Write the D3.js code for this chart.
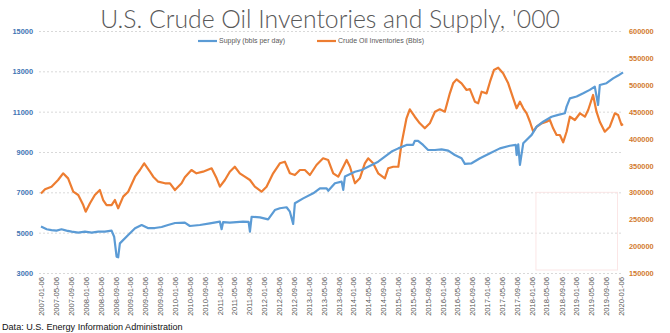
<!DOCTYPE html>
<html>
<head>
<meta charset="utf-8">
<script src="https://cdn.jsdelivr.net/npm/d3@7"></script>
<style>
  html, body { margin: 0; padding: 0; background: #fff; }
  svg { display: block; }
</style>
</head>
<body>
<svg id="chart" width="670" height="333"></svg>
<script>
// ---------- DATA ----------
const titleText = "U.S. Crude Oil Inventories and Supply, '000";
const sourceText = "Data: U.S. Energy Information Administration";
const seriesNames = ["Supply (bbls per day)", "Crude Oil Inventories (Bbls)"];

const leftTicks = [3000, 5000, 7000, 9000, 11000, 13000, 15000];
const rightTicks = [150000, 200000, 250000, 300000, 350000, 400000, 450000, 500000, 550000, 600000];

const xTickLabels = [
  "2007-01-06","2007-05-06","2007-09-06","2008-01-06","2008-05-06","2008-09-06",
  "2009-01-06","2009-05-06","2009-09-06","2010-01-06","2010-05-06","2010-09-06",
  "2011-01-06","2011-05-06","2011-09-06","2012-01-06","2012-05-06","2012-09-06",
  "2013-01-06","2013-05-06","2013-09-06","2014-01-06","2014-05-06","2014-09-06",
  "2015-01-06","2015-05-06","2015-09-06","2016-01-06","2016-05-06","2016-09-06",
  "2017-01-06","2017-05-06","2017-09-06","2018-01-06","2018-05-06","2018-09-06",
  "2019-01-06","2019-05-06","2019-09-06","2020-01-06"
];

const supplyDates = [
  "2007-01-06","2007-02-22","2007-04-02","2007-05-13","2007-06-23","2007-08-03","2007-09-14","2007-11-07",
  "2008-01-01","2008-02-25","2008-04-19","2008-06-12","2008-08-06","2008-08-27","2008-09-16","2008-09-29",
  "2008-10-13","2008-12-20","2009-02-14","2009-04-09","2009-05-30","2009-07-26","2009-09-20","2009-11-11",
  "2010-01-08","2010-03-29","2010-05-09","2010-07-30","2010-10-20","2011-01-10","2011-01-24","2011-02-05",
  "2011-04-01","2011-07-19","2011-09-02","2011-09-13","2011-09-27","2011-12-04","2012-02-09","2012-04-04",
  "2012-05-15","2012-07-09","2012-08-05","2012-09-01","2012-09-15","2012-11-22","2013-02-12","2013-04-08",
  "2013-06-02","2013-06-15","2013-08-09","2013-10-03","2013-10-16","2013-10-30","2014-01-20","2014-03-15",
  "2014-05-08","2014-07-29","2014-09-22","2014-11-16","2015-01-10","2015-03-18","2015-05-11","2015-05-25",
  "2015-06-21","2015-08-01","2015-09-11","2015-11-06","2015-12-30","2016-02-23","2016-04-17","2016-06-11",
  "2016-07-08","2016-09-01","2016-11-09","2017-01-30","2017-04-21","2017-07-11","2017-08-29","2017-09-05",
  "2017-09-18","2017-10-02","2017-10-29","2017-12-09","2018-01-06","2018-02-16","2018-04-10","2018-06-18",
  "2018-08-11","2018-10-05","2018-10-19","2018-11-15","2019-01-09","2019-03-04","2019-04-27","2019-06-07",
  "2019-07-04","2019-07-18","2019-09-11","2019-11-04","2019-12-15","2020-01-12","2020-01-24"
];
const supplyValues = [
  5300, 5170, 5130, 5100, 5170, 5100, 5050, 5000,
  5050, 5000, 5050, 5050, 5100, 4800, 3810, 3780,
  4470, 4880, 5220, 5380, 5230, 5230, 5280, 5380,
  5480, 5495, 5330, 5380, 5460, 5545, 5170, 5520,
  5495, 5545, 5540, 5050, 5790, 5760, 5660, 6120,
  6210, 6260, 6040, 5430, 6460, 6700, 6950, 7200,
  7200, 7080, 7450, 7530, 7120, 7780, 8020, 8110,
  8270, 8520, 8770, 9020, 9180, 9350, 9350, 9550,
  9550, 9350, 9100, 9100, 9130, 9070, 8850, 8690,
  8410, 8440, 8690, 8940, 9180, 9310, 9350, 8850,
  9380, 8360, 9430, 9680, 9850, 10260, 10500, 10750,
  10840, 10920, 11250, 11660, 11750, 11910, 12080, 12240,
  11330, 12320, 12410, 12650, 12790, 12900, 12950
];

const invDates = [
  "2007-01-06","2007-02-08","2007-04-02","2007-05-26","2007-07-06","2007-08-16","2007-09-27","2007-11-07",
  "2007-12-18","2008-01-07","2008-02-11","2008-03-22","2008-05-02","2008-05-29","2008-06-26","2008-08-06",
  "2008-09-02","2008-09-29","2008-11-09","2008-12-20","2009-02-14","2009-03-26","2009-04-30","2009-06-16",
  "2009-07-13","2009-08-23","2009-10-17","2009-11-27","2010-01-07","2010-03-02","2010-03-29","2010-05-22",
  "2010-07-02","2010-08-25","2010-11-03","2010-12-14","2011-01-10","2011-02-20","2011-04-01","2011-05-12",
  "2011-06-22","2011-08-02","2011-09-13","2011-10-23","2011-12-17","2012-01-27","2012-03-21","2012-05-15",
  "2012-06-25","2012-08-05","2012-09-15","2012-10-26","2012-12-06","2013-01-16","2013-03-11","2013-05-04",
  "2013-06-15","2013-07-26","2013-09-05","2013-10-03","2013-11-13","2013-12-10","2014-01-20","2014-03-01",
  "2014-04-11","2014-05-08","2014-06-18","2014-07-29","2014-09-22","2014-10-19","2014-11-29","2015-01-10",
  "2015-02-06","2015-03-18","2015-04-14","2015-05-25","2015-07-05","2015-08-15","2015-09-25","2015-11-06",
  "2015-12-16","2016-01-26","2016-03-07","2016-04-03","2016-05-01","2016-06-11","2016-07-22","2016-08-18",
  "2016-09-28","2016-10-25","2016-11-22","2017-01-02","2017-01-30","2017-03-03","2017-04-07","2017-05-17",
  "2017-06-28","2017-08-08","2017-09-05","2017-10-02","2017-10-29","2017-11-26","2017-12-23","2018-01-19",
  "2018-02-16","2018-03-28","2018-05-08","2018-06-04","2018-07-01","2018-07-29","2018-08-25","2018-09-21",
  "2018-10-19","2018-11-15","2018-12-26","2019-02-06","2019-03-18","2019-04-14","2019-05-24","2019-06-21",
  "2019-07-18","2019-08-28","2019-10-08","2019-11-18","2019-12-15","2020-01-12","2020-01-24"
];
const invValues = [
  298000, 305600, 310500, 322900, 335400, 326000, 301200, 295000,
  276400, 264000, 279600, 295000, 304300, 285700, 276400, 276400,
  285700, 270300, 292000, 301200, 329100, 341500, 354000, 338400,
  329100, 319800, 316800, 316800, 304300, 316800, 328000, 341500,
  335400, 338400, 344700, 326100, 310500, 322900, 338400, 347600,
  335400, 329100, 322900, 310500, 301200, 310500, 335400, 354000,
  357000, 335400, 332200, 341500, 341500, 332200, 350800, 363300,
  360100, 335400, 329100, 341500, 360100, 347600, 316800, 326100,
  354000, 363300, 354000, 335400, 326100, 344700, 347600, 347600,
  391100, 437600, 454400, 440600, 428300, 419000, 428300, 449900,
  454400, 449900, 484100, 502700, 510100, 502700, 490300, 492000,
  468500, 465600, 487100, 484100, 505700, 527400, 531700, 521400,
  502700, 474800, 456200, 468500, 456200, 446900, 431300, 412700,
  422000, 428300, 431300, 434500, 419000, 406600, 406600, 393000,
  412700, 440600, 434500, 447000, 440600, 453100, 481000, 450000,
  431300, 412700, 422000, 447000, 443800, 425200, 427000
];

// ---------- LAYOUT ----------
const plot = { left: 41, right: 623, top: 31, bottom: 273 };
const blue = "#5B9BD5", orange = "#ED7D31";
const parse = d3.utcParse("%Y-%m-%d");

const svg = d3.select("#chart");

const x = d3.scaleUtc()
  .domain([parse("2007-01-06"), parse("2020-01-24")])
  .range([plot.left, plot.right]);
const yL = d3.scaleLinear().domain([3000, 15000]).range([plot.bottom, plot.top]);
const yR = d3.scaleLinear().domain([150000, 600000]).range([plot.bottom, plot.top]);

// gridlines
svg.append("g").selectAll("line").data(leftTicks).join("line")
  .attr("x1", plot.left - 2).attr("x2", plot.right)
  .attr("y1", d => yL(d) + 0.5).attr("y2", d => yL(d) + 0.5)
  .attr("stroke", "#d9d9d9").attr("stroke-width", 1)
  .attr("stroke-dasharray", "2,2");

// left axis
const axL = d3.axisLeft(yL).tickValues(leftTicks).tickSize(0).tickPadding(0).tickFormat(d3.format("d"));
const gL = svg.append("g").attr("transform", `translate(${plot.left - 8},0)`).call(axL);
gL.select(".domain").remove();
gL.selectAll("text").attr("fill", "#3f74b3").attr("font-family", "Liberation Sans, Arial, sans-serif")
  .attr("font-size", 7.4).attr("font-weight", "bold").attr("dy", "0.35em");

// right axis
const axR = d3.axisRight(yR).tickValues(rightTicks).tickSize(0).tickPadding(0).tickFormat(d3.format("d"));
const gR = svg.append("g").attr("transform", `translate(629,0)`).call(axR);
gR.select(".domain").remove();
gR.selectAll("text").attr("fill", "#d27a2e").attr("font-family", "Liberation Sans, Arial, sans-serif")
  .attr("font-size", 7.4).attr("font-weight", "bold").attr("dy", "0.35em");

// x axis
const tickDates = xTickLabels.map(parse);
const axX = d3.axisBottom(x).tickValues(tickDates).tickSize(0).tickPadding(0)
  .tickFormat((d, i) => xTickLabels[i]);
const gX = svg.append("g").attr("transform", `translate(0,${plot.bottom + 4})`).call(axX);
gX.select(".domain").remove();
gX.selectAll("text")
  .attr("fill", "#595959").attr("font-family", "Liberation Sans, Arial, sans-serif")
  .attr("font-size", 7.6)
  .attr("text-anchor", "end")
  .attr("transform", "rotate(-90)").attr("x", 0).attr("y", 0).attr("dx", 0)
  .attr("dy", "0.35em");

// faint selection rectangle artefact
svg.append("rect")
  .attr("x", x(parse("2018-02-10"))).attr("y", yR(300000))
  .attr("width", x(parse("2019-12-10")) - x(parse("2018-02-10")))
  .attr("height", yR(150000) - yR(300000) - 3)
  .attr("fill", "none").attr("stroke", "#fbe6e6").attr("stroke-width", 1);

// lines
const supply = supplyDates.map((d, i) => ({ date: parse(d), v: supplyValues[i] }));
const inv = invDates.map((d, i) => ({ date: parse(d), v: invValues[i] }));

svg.append("path").datum(inv)
  .attr("fill", "none").attr("stroke", orange).attr("stroke-width", 2.2)
  .attr("stroke-linejoin", "round")
  .attr("d", d3.line().x(d => x(d.date)).y(d => yR(d.v)));

svg.append("path").datum(supply)
  .attr("fill", "none").attr("stroke", blue).attr("stroke-width", 2.2)
  .attr("stroke-linejoin", "round")
  .attr("d", d3.line().x(d => x(d.date)).y(d => yL(d.v)));

// title
const title = svg.append("text")
  .attr("x", 330).attr("y", 28).attr("text-anchor", "middle")
  .attr("font-family", "Lato, 'Open Sans', sans-serif").attr("font-weight", 300)
  .attr("font-size", 26).attr("fill", "#595959").text(titleText);
const tw = title.node().getComputedTextLength();
title.attr("font-size", 26 * 460 / tw);

// legend
const legend = [
  { name: seriesNames[0], color: blue, x0: 198 },
  { name: seriesNames[1], color: orange, x0: 317 }
];
const lg = svg.append("g");
legend.forEach(l => {
  lg.append("line").attr("x1", l.x0).attr("x2", l.x0 + 19).attr("y1", 41).attr("y2", 41)
    .attr("stroke", l.color).attr("stroke-width", 2.2);
  lg.append("text").attr("x", l.x0 + 21).attr("y", 41).attr("dy", "0.35em")
    .attr("font-family", "Liberation Sans, Arial, sans-serif").attr("font-size", 7)
    .attr("fill", "#595959").text(l.name);
});

// source
const src = svg.append("text").attr("x", 2).attr("y", 330)
  .attr("font-family", "Liberation Sans, Arial, sans-serif").attr("font-size", 10)
  .attr("fill", "#111").text(sourceText);
const sw = src.node().getComputedTextLength();
src.attr("font-size", 10 * 181 / sw);
</script>
</body>
</html>
